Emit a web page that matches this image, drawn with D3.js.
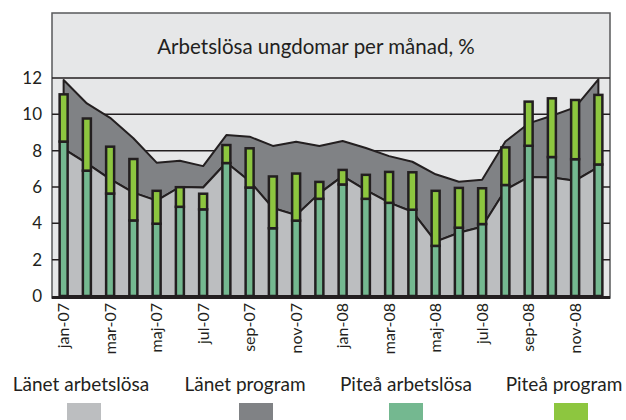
<!DOCTYPE html>
<html><head><meta charset="utf-8">
<script src="https://cdn.jsdelivr.net/npm/d3@7"></script>
<style>body{margin:0;background:#fff}svg{display:block}text{font-family:Lato,"Open Sans",sans-serif;fill:#231f20}</style>
</head><body>
<svg id="c" width="626" height="420"></svg>
<script>
const months = ["jan-07","feb-07","mar-07","apr-07","maj-07","jun-07","jul-07","aug-07","sep-07","okt-07","nov-07","dec-07",
"jan-08","feb-08","mar-08","apr-08","maj-08","jun-08","jul-08","aug-08","sep-08","okt-08","nov-08","dec-08"];
const lanArbetslosa = [8.1,7.3,6.43,5.69,5.25,6.0,5.97,7.35,6.32,4.84,4.45,5.65,6.6,5.83,5.14,4.64,2.99,3.48,3.81,5.85,6.55,6.52,6.35,7.1];
const lanProgram = [3.79,3.3,3.38,2.99,2.09,1.45,1.18,1.51,2.45,3.42,4.04,2.61,1.93,2.32,2.56,2.75,3.71,2.81,2.59,2.65,2.95,3.4,4.03,4.83];
const piteaArbetslosa = [8.5,6.9,5.64,4.16,3.98,4.91,4.77,7.32,5.97,3.73,4.15,5.35,6.14,5.35,5.13,4.75,2.76,3.76,3.96,6.11,8.27,7.65,7.53,7.24];
const piteaProgram = [2.6,2.87,2.58,3.38,1.81,1.08,0.86,0.99,2.16,2.85,2.59,0.93,0.8,1.32,1.7,2.06,3.03,2.19,1.97,2.07,2.43,3.23,3.26,3.83];
const yTicks = [0,2,4,6,8,10,12];
const tickMonths = months.filter((m,i)=>i%2===0);
const title = "Arbetslösa ungdomar per månad, %";
const legendItems = ["Länet arbetslösa","Länet program","Piteå arbetslösa","Piteå program"];
const colors = ["#bcbec0","#808285","#74b890","#8dc63f"];

const svg = d3.select("#c");
const L=52,R=610,T=13,B=298;
const x = d3.scaleBand().domain(months).range([L,R]);
const y = d3.scaleLinear().domain([0,12]).range([296,78]);
const cx = m => x(m)+x.bandwidth()/2;

svg.append("rect").attr("x",L).attr("y",T).attr("width",R-L).attr("height",B-T)
  .attr("fill","#e6e7e8").attr("stroke","#58595b").attr("stroke-width",1.5);

svg.append("g").selectAll("line").data(yTicks.filter(d=>d>0)).join("line")
  .attr("x1",L).attr("x2",R).attr("y1",d=>y(d)).attr("y2",d=>y(d))
  .attr("stroke","#231f20").attr("stroke-width",1.5);

const data = months.map((m,i)=>({m,a:lanArbetslosa[i],t:lanArbetslosa[i]+lanProgram[i],pa:piteaArbetslosa[i],pt:piteaArbetslosa[i]+piteaProgram[i]}));

const areaTop = d3.area().x(d=>cx(d.m)).y0(d=>y(d.a)).y1(d=>y(d.t));
const areaLow = d3.area().x(d=>cx(d.m)).y0(y(0)).y1(d=>y(d.a));
svg.append("path").datum(data).attr("d",areaTop).attr("fill",colors[1]).attr("stroke","#231f20").attr("stroke-width",2).attr("stroke-linejoin","round");
svg.append("path").datum(data).attr("d",areaLow).attr("fill",colors[0]).attr("stroke","#231f20").attr("stroke-width",2).attr("stroke-linejoin","round");

const bw = 8;
const bars = svg.append("g");
bars.selectAll("rect.pa").data(data).join("rect").attr("class","pa")
  .attr("x",d=>cx(d.m)-bw/2).attr("width",bw).attr("y",d=>y(d.pa)).attr("height",d=>y(0)-y(d.pa))
  .attr("fill",colors[2]).attr("stroke","#231f20").attr("stroke-width",2.5);
bars.selectAll("rect.pp").data(data).join("rect").attr("class","pp")
  .attr("x",d=>cx(d.m)-bw/2).attr("width",bw).attr("y",d=>y(d.pt)).attr("height",d=>y(d.pa)-y(d.pt))
  .attr("fill",colors[3]).attr("stroke","#231f20").attr("stroke-width",2.5);

svg.append("line").attr("x1",L).attr("x2",R).attr("y1",297.5).attr("y2",297.5).attr("stroke","#231f20").attr("stroke-width",3);

svg.append("g").selectAll("text").data(yTicks).join("text")
  .attr("x",42).attr("y",d=>y(d)).attr("dy","0.35em").attr("text-anchor","end")
  .attr("font-size",17).text(d=>d);

svg.append("g").selectAll("text").data(tickMonths).join("text")
  .attr("transform",m=>`translate(${cx(m)},303) rotate(-90)`)
  .attr("dy","0.35em").attr("text-anchor","end").attr("font-size",16).text(m=>m);

svg.append("text").attr("x",316).attr("y",47).attr("dy","0.35em").attr("text-anchor","middle")
  .attr("font-size",20.5).text(title);

const legX = [81,245,406,564];
const sw = [84,256,406,571];
const lg = svg.append("g");
lg.selectAll("text").data(legendItems).join("text")
  .attr("x",(d,i)=>legX[i]).attr("y",391).attr("text-anchor","middle").attr("font-size",19).text(d=>d);
lg.selectAll("rect").data(legendItems).join("rect")
  .attr("x",(d,i)=>sw[i]-17).attr("y",403).attr("width",34).attr("height",17)
  .attr("fill",(d,i)=>colors[i]);
</script>
</body></html>
